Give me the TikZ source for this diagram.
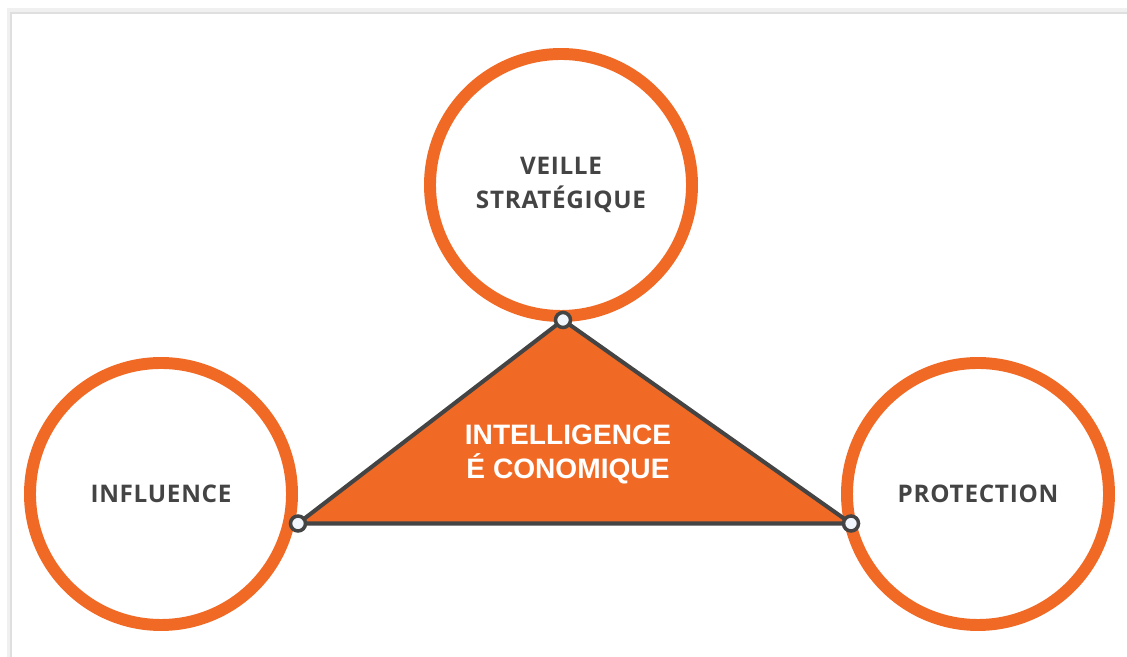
\documentclass[tikz,border=0pt]{standalone}
\usepackage{fontspec}
\setmainfont{Liberation Sans}
\newfontfamily\labelfont[LetterSpace=3]{Open Sans}
\usetikzlibrary{shapes,positioning,calc}
\definecolor{ieorange}{HTML}{F06A25}
\definecolor{iegray}{HTML}{444444}
\definecolor{iedot}{HTML}{F0F6FC}
\tikzset{
pole/.style = {draw=ieorange, line width=6.8pt, fill=white, circle, minimum size=5.24cm, inner sep=0pt,
  font=\labelfont\bfseries\fontsize{13.8}{19}\selectfont, text=iegray, align=center},
corner/.style = {draw=iegray, line width=2pt, fill=iedot, circle, minimum size=0.3cm, inner sep=0pt},
core/.style = {text=white, align=center, font=\bfseries\fontsize{16}{19}\selectfont}
}
\begin{document}
\begin{tikzpicture}
\useasboundingbox (0,0) rectangle (22.54,13.14);
% frame
\fill[gray!12] (0.14,0) rectangle (22.54,12.98);
\fill[gray!25] (0.2,0) rectangle (22.54,12.9);
\fill[white] (0.24,0) rectangle (22.54,12.86);
% circles
\node[pole] (veille) at (11.22,9.44) {VEILLE\\STRATÉGIQUE};
\node[pole] (influence) at (3.22,3.26) {INFLUENCE};
\node[pole] (protection) at (19.56,3.26) {PROTECTION};
% triangle
\coordinate (ttop) at (11.26,6.74);
\coordinate (tleft) at (5.96,2.67);
\coordinate (tright) at (17.02,2.67);
\draw[fill=ieorange, draw=iegray, line width=2.3pt, line join=round] (ttop) -- (tleft) -- (tright) -- cycle;
\node[core] (ie) at (11.36,4.05) {INTELLIGENCE\\É CONOMIQUE};
\node[corner] (dtop) at (ttop) {};
\node[corner] (dleft) at (tleft) {};
\node[corner] (dright) at (tright) {};
\end{tikzpicture}
\end{document}
